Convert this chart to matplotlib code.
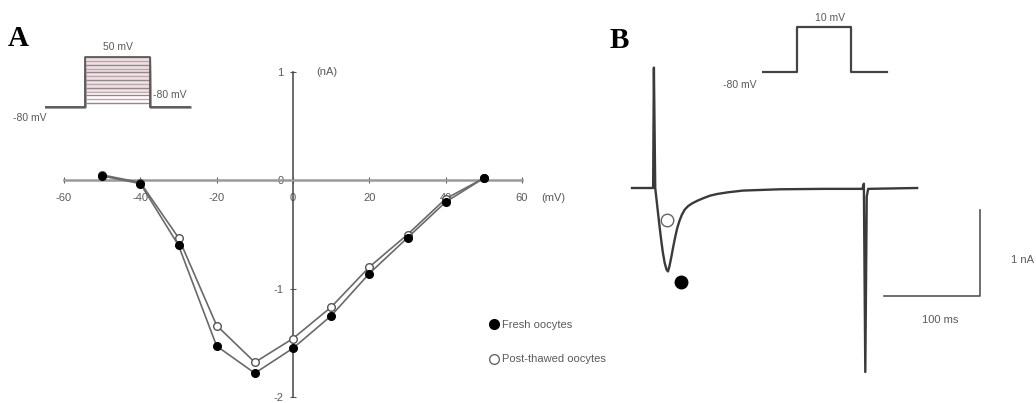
import numpy as np
import matplotlib
matplotlib.use("Agg")
import matplotlib.pyplot as plt
from matplotlib.lines import Line2D

# --- panel A: I-V relation (mV, nA)
voltage = [-50, -40, -30, -20, -10, 0, 10, 20, 30, 40, 50]
fresh = [0.04, -0.03, -0.60, -1.53, -1.78, -1.55, -1.25, -0.86, -0.53, -0.20, 0.02]
thawed = [0.05, -0.02, -0.53, -1.34, -1.68, -1.46, -1.17, -0.80, -0.50, -0.17, 0.02]
xticks = [-60, -40, -20, 0, 20, 40, 60]
yticks = [1, 0, -1, -2]

# step protocol of panel A (holding -80 mV, test pulses -70..50 mV)
protA_t = [0, 40, 40, 105, 105, 145]
protA_levels = [-70, -60, -50, -40, -30, -20, -10, 0, 10, 20, 30, 40, 50]

# --- panel B: current trace (ms, nA)
trace_t = [0, 22, 22.8, 24.2, 26, 28, 30, 32, 34, 36, 37.5, 39, 41, 43, 45, 47, 49.5,
           52, 55, 58.5, 62.5, 67.7, 74, 81, 88.5, 100, 115.6, 154, 200, 240, 241.5,
           243, 244.5, 246, 297]
trace_i = [0, 0, 1.40, 0.0, -0.18, -0.38, -0.57, -0.74, -0.87, -0.95, -0.97, -0.91,
           -0.80, -0.68, -0.57, -0.47, -0.38, -0.31, -0.25, -0.21, -0.18, -0.15,
           -0.12, -0.09, -0.07, -0.05, -0.03, -0.015, -0.01, -0.01, 0.05, -2.14,
           -0.1, -0.01, 0]
peak_t = [51, 36.5]
peak_i = [-1.09, -0.37]
protB_t = [0, 35, 35, 89, 89, 125]
protB_v = [-80, -80, 10, 10, -80, -80]

W, H = 1036, 403
fig = plt.figure(figsize=(W / 100, H / 100), dpi=100)
plt.rcParams['font.family'] = ['Liberation Sans', 'DejaVu Sans']
grey = '#5a5a5a'


def pxAxes(x0, y0, x1, y1):
    return fig.add_axes([x0 / W, 1 - y1 / H, (x1 - x0) / W, (y1 - y0) / H])


# ---------------- panel A
ax = pxAxes(64, 72, 522, 397)
ax.set_xlim(-60, 60)
ax.set_ylim(-2, 1)
ax.patch.set_alpha(0)
for s in ['top', 'right']:
    ax.spines[s].set_visible(False)
ax.spines['left'].set_position(('data', 0))
ax.spines['bottom'].set_position(('data', 0))
ax.spines['bottom'].set_color('#9a9a9a')
ax.spines['bottom'].set_linewidth(1.8)
ax.spines['left'].set_color('#444444')
ax.spines['left'].set_linewidth(1.1)
ax.set_xticks(xticks)
ax.set_yticks(yticks)
ax.set_xticklabels([str(v) for v in xticks])
ax.set_yticklabels([str(v) for v in yticks])
ax.tick_params(axis='x', direction='inout', length=4, pad=7, labelsize=8, colors=grey)
ax.tick_params(axis='y', direction='inout', length=4, pad=5, labelsize=8, colors=grey)
ax.plot(voltage, thawed, color='#6a6a6a', lw=1.2, marker='o', ms=5.5,
        mfc='white', mec='#555555', mew=1.0, clip_on=False, zorder=3)
ax.plot(voltage, fresh, color='#6a6a6a', lw=1.2, marker='o', ms=5.5,
        mfc='black', mec='black', clip_on=False, zorder=4)
ax.text(6, 1.0, '(nA)', fontsize=8, color=grey, va='center')
ax.text(65, -0.16, '(mV)', fontsize=8, color=grey, va='center')

handles = [Line2D([], [], ls='none', marker='o', ms=7, mfc='black', mec='black'),
           Line2D([], [], ls='none', marker='o', ms=7, mfc='white', mec='#666666')]
ax.legend(handles, ['Fresh oocytes', 'Post-thawed oocytes'], frameon=False,
          loc='upper left', bbox_to_anchor=(478 / W, 1 - 310 / H),
          bbox_transform=fig.transFigure, fontsize=8, labelcolor=grey,
          labelspacing=2.2, handletextpad=0.3, handlelength=1.0)

# protocol inset A
axp = pxAxes(45, 40, 200, 125)
axp.set_xlim(0, 155)
axp.set_ylim(-80 - 18 / 0.385, 50 + 17 / 0.385)
axp.axis('off')
axp.fill_between([40, 105], -40, 48, color='#eee0e3', lw=0)
for k, lev in enumerate(protA_levels):
    col = '#c4a3ab' if k % 2 else '#8a8a8a'
    axp.plot(protA_t, [-80, -80, lev, lev, -80, -80], color=col, lw=1.0)
axp.plot(protA_t, [-80, -80, 50, 50, -80, -80], color='#555555', lw=1.2)
axp.text(73, 76, '50 mV', fontsize=7.5, color=grey, ha='center', va='center')
axp.text(108, -49, '-80 mV', fontsize=7.5, color=grey, ha='left', va='center')
axp.text(-15, -108, '-80 mV', fontsize=7.5, color=grey, ha='center', va='center',
         clip_on=False)

fig.text(8 / W, 1 - 38 / H, 'A', fontsize=21, fontweight='bold',
         family='Liberation Serif', va='center')
fig.text(610 / W, 1 - 40 / H, 'B', fontsize=21, fontweight='bold',
         family='Liberation Serif', va='center')

# ---------------- panel B
axb = pxAxes(620, 0, 1036, 403)
axb.set_xlim(-12.5, 420.8)
axb.set_ylim(-2.5, 2.186)
axb.axis('off')
axb.plot(trace_t, trace_i, color='#3a3a3a', lw=1.7)
axb.plot(peak_t[0], peak_i[0], 'o', ms=9, mfc='black', mec='black')
axb.plot(peak_t[1], peak_i[1], 'o', ms=9, mfc='white', mec='#666666')

# scale bars: 100 ms, 1 nA
bar_t, bar_i = 362, -1.256
axb.plot([bar_t - 100, bar_t, bar_t], [bar_i, bar_i, bar_i + 1], color='#555555', lw=1.2)
axb.text(bar_t - 41, bar_i - 0.28, '100 ms', fontsize=8, color=grey, ha='center', va='center')
axb.text(419, bar_i + 0.42, '1 nA', fontsize=8, color=grey, ha='right', va='center')

# protocol inset B
axq = pxAxes(762, 10, 900, 90)
axq.set_xlim(0, 138)
axq.set_ylim(-80 - 18 / 0.5, 10 + 17 / 0.5)
axq.axis('off')
axq.plot(protB_t, protB_v, color='#444444', lw=1.6)
axq.text(68, 28, '10 mV', fontsize=7.5, color=grey, ha='center', va='center', clip_on=False)
axq.text(-22, -106, '-80 mV', fontsize=7.5, color=grey, ha='center', va='center',
         clip_on=False)

fig.savefig('out.png', dpi=100)
